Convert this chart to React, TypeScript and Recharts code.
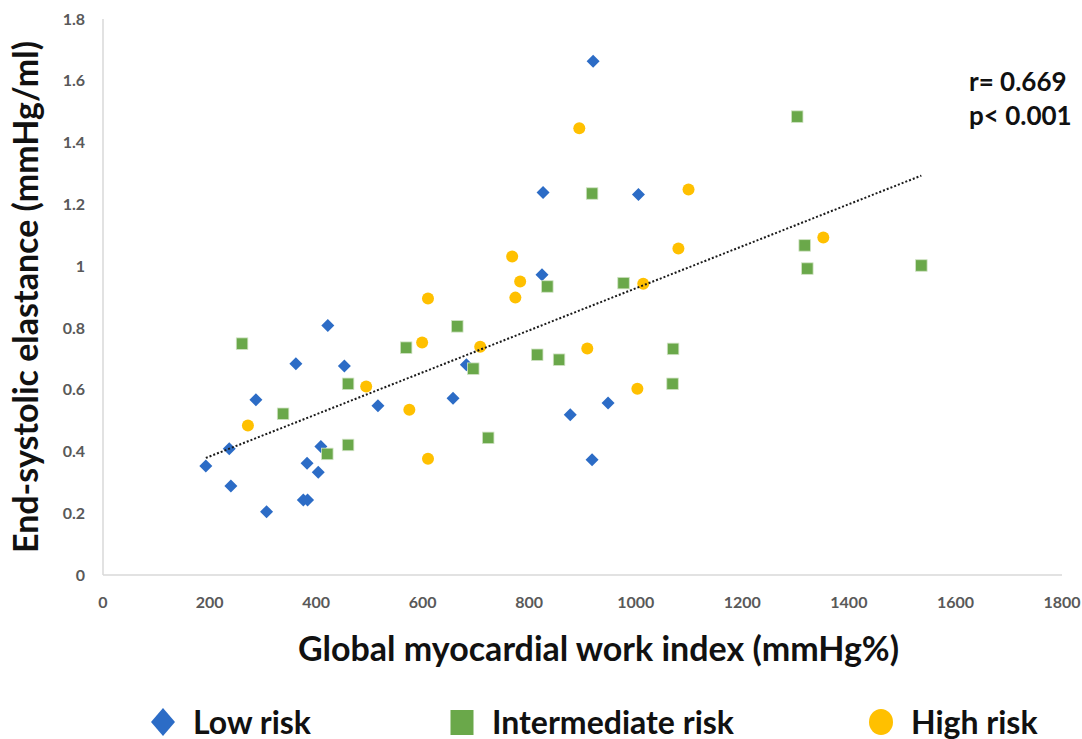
import React from 'react';
import { ScatterChart, Scatter, XAxis, YAxis, Legend } from 'recharts';

const xTicks = [0, 200, 400, 600, 800, 1000, 1200, 1400, 1600, 1800];
const yTicks = [0, 0.2, 0.4, 0.6, 0.8, 1, 1.2, 1.4, 1.6, 1.8];

const lowRisk = [
  { x: 193, y: 0.353 }, { x: 237, y: 0.409 }, { x: 240, y: 0.288 }, { x: 287, y: 0.567 },
  { x: 307, y: 0.205 }, { x: 362, y: 0.684 }, { x: 376, y: 0.243 }, { x: 384, y: 0.243 },
  { x: 383, y: 0.362 }, { x: 404, y: 0.333 }, { x: 409, y: 0.416 }, { x: 422, y: 0.808 },
  { x: 453, y: 0.677 }, { x: 516, y: 0.548 }, { x: 657, y: 0.572 }, { x: 682, y: 0.681 },
  { x: 824, y: 0.972 }, { x: 826, y: 1.238 }, { x: 877, y: 0.519 }, { x: 920, y: 1.663 },
  { x: 918, y: 0.373 }, { x: 948, y: 0.557 }, { x: 1005, y: 1.232 },
];

const intermediateRisk = [
  { x: 261, y: 0.749 }, { x: 338, y: 0.522 }, { x: 421, y: 0.392 }, { x: 460, y: 0.619 },
  { x: 460, y: 0.421 }, { x: 569, y: 0.736 }, { x: 665, y: 0.805 }, { x: 695, y: 0.668 },
  { x: 723, y: 0.444 }, { x: 815, y: 0.713 }, { x: 856, y: 0.697 }, { x: 1070, y: 0.732 },
  { x: 1069, y: 0.619 }, { x: 918, y: 1.235 }, { x: 834, y: 0.934 }, { x: 977, y: 0.945 },
  { x: 1303, y: 1.484 }, { x: 1317, y: 1.067 }, { x: 1322, y: 0.992 }, { x: 1536, y: 1.002 },
];

const highRisk = [
  { x: 272, y: 0.484 }, { x: 494, y: 0.61 }, { x: 575, y: 0.535 }, { x: 599, y: 0.753 },
  { x: 610, y: 0.376 }, { x: 610, y: 0.895 }, { x: 768, y: 1.031 }, { x: 783, y: 0.95 },
  { x: 774, y: 0.898 }, { x: 708, y: 0.739 }, { x: 909, y: 0.733 }, { x: 1003, y: 0.603 },
  { x: 894, y: 1.446 }, { x: 1014, y: 0.943 }, { x: 1080, y: 1.057 }, { x: 1099, y: 1.248 },
  { x: 1352, y: 1.093 },
];

const trendLine = [
  { x: 193, y: 0.379 },
  { x: 1536, y: 1.293 },
];

const seriesNames = ['Low risk', 'Intermediate risk', 'High risk'];
const statsLines = ['r= 0.669', 'p< 0.001'];
const xLabel = 'Global myocardial work index (mmHg%)';
const yLabel = 'End-systolic elastance (mmHg/ml)';

const BLUE = '#2C6CC6';
const GREEN = '#6AA84A';
const YELLOW = '#FFC000';
const FONT = 'Lato, "Open Sans", sans-serif';

const DiamondShape = (props: any) => {
  const { cx, cy } = props;
  const h = 6.5;
  return <polygon points={`${cx},${cy - h} ${cx + h},${cy} ${cx},${cy + h} ${cx - h},${cy}`} fill={BLUE} />;
};
const SquareShape = (props: any) => {
  const { cx, cy } = props;
  const s = 11.5;
  return <rect x={cx - s / 2} y={cy - s / 2} width={s} height={s} fill={GREEN} stroke="#cfe2c2" strokeWidth={0.8} />;
};
const CircleShape = (props: any) => {
  const { cx, cy } = props;
  return <circle cx={cx} cy={cy} r={6} fill={YELLOW} />;
};
const NoShape = () => <g />;

const legendIcon = (name: string) => {
  if (name === seriesNames[0]) {
    return (
      <svg width={26} height={30}><polygon points="13,1 25,15 13,29 1,15" fill={BLUE} /></svg>
    );
  }
  if (name === seriesNames[1]) {
    return (
      <svg width={26} height={30}><rect x={1.5} y={3} width={23} height={25} fill={GREEN} /></svg>
    );
  }
  return (
    <svg width={26} height={30}><ellipse cx={13} cy={15} rx={12} ry={13} fill={YELLOW} /></svg>
  );
};

const legendLefts = [150, 449, 868];

const LegendContent = (props: any) => {
  const payload = (props.payload || []).filter((p: any) => seriesNames.includes(p.value));
  return (
    <div style={{ position: 'relative', width: 1082, height: 50 }}>
      {payload.map((p: any, i: number) => (
        <div
          key={p.value}
          style={{
            position: 'absolute',
            left: legendLefts[seriesNames.indexOf(p.value)] ?? i * 300,
            top: 18,
            display: 'flex',
            alignItems: 'center',
            height: 30,
          }}
        >
          {legendIcon(p.value)}
          <span
            style={{
              marginLeft: 17,
              fontFamily: FONT,
              fontWeight: 700,
              fontSize: 32,
              lineHeight: '30px',
              color: '#111',
              whiteSpace: 'nowrap',
            }}
          >
            {p.value}
          </span>
        </div>
      ))}
    </div>
  );
};

const XLabel = (props: any) => {
  const vb = props.viewBox || { x: 0, y: 0, width: 0 };
  return (
    <text
      x={vb.x + vb.width / 2 + 16}
      y={vb.y + 86}
      textAnchor="middle"
      fontFamily={FONT}
      fontWeight={700}
      fontSize={34}
      fill="#111"
    >
      {xLabel}
    </text>
  );
};

const YLabel = (props: any) => {
  const vb = props.viewBox || { x: 0, y: 0, height: 0 };
  const x = vb.x + 38;
  const y = vb.y + vb.height / 2;
  return (
    <text
      x={x}
      y={y}
      transform={`rotate(-90, ${x}, ${y})`}
      textAnchor="middle"
      fontFamily={FONT}
      fontWeight={700}
      fontSize={34}
      fill="#111"
    >
      {yLabel}
    </text>
  );
};

const tickStyle = { fontFamily: FONT, fontWeight: 700, fontSize: 16, fill: '#595959' };

export default function App() {
  return (
    <div style={{ position: 'absolute', left: 0, top: 0, width: 1082, height: 739, background: '#fff' }}>
      <ScatterChart width={1082} height={739} margin={{ top: 19, right: 20, left: 0, bottom: 0 }}>
        <XAxis
          type="number"
          dataKey="x"
          domain={[0, 1800]}
          ticks={xTicks}
          interval={0}
          height={114}
          tickLine={false}
          tickSize={10}
          tickMargin={12}
          axisLine={{ stroke: '#d9d9d9', strokeWidth: 1.5 }}
          tick={tickStyle}
          label={{ content: XLabel } as any}
        />
        <YAxis
          type="number"
          dataKey="y"
          domain={[0, 1.8]}
          ticks={yTicks}
          interval={0}
          width={103}
          tickLine={false}
          tickSize={10}
          tickMargin={8}
          axisLine={{ stroke: '#d9d9d9', strokeWidth: 1.5 }}
          tick={tickStyle}
          tickFormatter={(v: number) => String(v)}
          label={{ content: YLabel } as any}
        />
        <Legend verticalAlign="bottom" align="left" content={LegendContent} />
        <Scatter name={seriesNames[0]} data={lowRisk} fill={BLUE} shape={DiamondShape} isAnimationActive={false} />
        <Scatter name={seriesNames[1]} data={intermediateRisk} fill={GREEN} shape={SquareShape} isAnimationActive={false} />
        <Scatter name={seriesNames[2]} data={highRisk} fill={YELLOW} shape={CircleShape} isAnimationActive={false} />
        <Scatter
          name="trend"
          data={trendLine}
          legendType="none"
          shape={NoShape}
          line={{ stroke: '#1a1a1a', strokeWidth: 2, strokeDasharray: '2 2' }}
          isAnimationActive={false}
        />
      </ScatterChart>
      <div
        style={{
          position: 'absolute',
          left: 969,
          top: 64,
          fontFamily: FONT,
          fontWeight: 700,
          fontSize: 26,
          lineHeight: '34px',
          color: '#111',
        }}
      >
        {statsLines.map((s) => (
          <div key={s}>{s}</div>
        ))}
      </div>
    </div>
  );
}
